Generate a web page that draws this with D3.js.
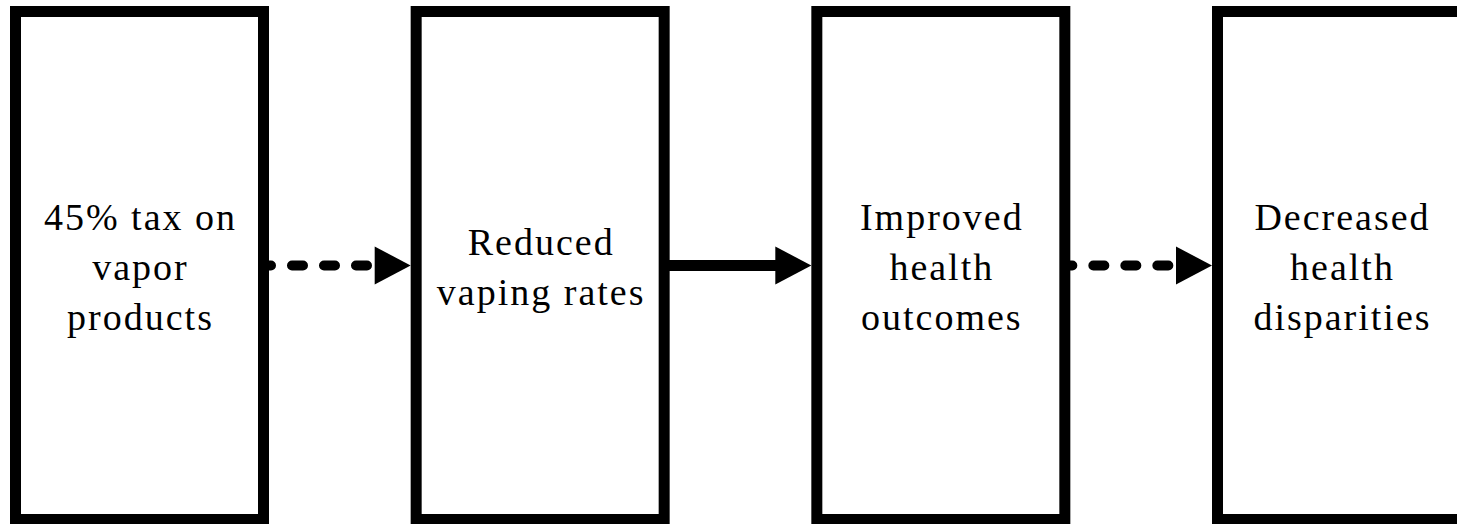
<!DOCTYPE html>
<html>
<head>
<meta charset="utf-8">
<script src="https://cdn.jsdelivr.net/npm/d3@7"></script>
<style>
  html, body { margin: 0; padding: 0; background: #fff; overflow: hidden; }
</style>
</head>
<body>
<div id="plot"></div>
<script>
// chart content
const steps = ["step1", "step2", "step3", "step4"];
const stepLabels = [
  ["45% tax on", "vapor", "products"],
  ["Reduced", "vaping rates"],
  ["Improved", "health", "outcomes"],
  ["Decreased", "health", "disparities"]
];
// link i goes from step i to step i+1
const linkStyles = ["dashed", "solid", "dashed"];

const W = 1457, H = 524;
const boxStroke = 11;

const svg = d3.select("#plot")
  .append("svg")
  .attr("width", W)
  .attr("height", H)
  .style("display", "block");

// box left edge (stroke centre) per step
const x = d3.scaleLinear()
  .domain([0, steps.length - 1])
  .range([15.5, 1217.5]);
const boxW = 248;
const y = d3.scaleLinear().domain([0, 1]).range([11.5, 519.5]);
const midY = y(0.5);

// arrows first, boxes on top hide the line ends
const links = linkStyles.map((s, i) => ({ style: s, from: i, to: i + 1 }));
const headLen = 36, headHalf = 19;

links.forEach(l => {
  const x0 = x(l.from) + boxW + boxStroke / 2 - 5;
  const tip = x(l.to) - boxStroke / 2;
  const headStart = tip - headLen;
  const dashed = l.style === "dashed";
  svg.append("line")
    .attr("x1", x0)
    .attr("y1", midY)
    .attr("x2", dashed ? headStart - 6 : headStart + 2)
    .attr("y2", midY)
    .attr("stroke", "#000")
    .attr("stroke-width", dashed ? 10 : 11)
    .attr("stroke-linecap", dashed ? "round" : "butt")
    .attr("stroke-dasharray", dashed ? "11 21" : null)
    .attr("stroke-dashoffset", dashed ? 4 : null);
  svg.append("path")
    .attr("d", `M${headStart},${midY - headHalf} L${tip},${midY} L${headStart},${midY + headHalf} Z`)
    .attr("fill", "#000");
});

// boxes
svg.selectAll("rect.box")
  .data(steps)
  .join("rect")
  .attr("class", "box")
  .attr("x", (d, i) => x(i))
  .attr("y", y(0))
  .attr("width", boxW)
  .attr("height", y(1) - y(0))
  .attr("fill", "#fff")
  .attr("stroke", "#000")
  .attr("stroke-width", boxStroke);

// labels
const lineH = 50;
steps.forEach((s, i) => {
  const lines = stepLabels[i];
  const t = svg.append("text")
    .attr("text-anchor", "middle")
    .attr("font-family", "'Times New Roman', 'Liberation Serif', Times, serif")
    .attr("font-size", 38)
    .attr("letter-spacing", 2)
    .attr("fill", "#000");
  lines.forEach((ln, k) => {
    t.append("tspan")
      .attr("x", x(i) + boxW / 2 + 1)
      .attr("y", midY + 14 + (k - (lines.length - 1) / 2) * lineH)
      .text(ln);
  });
});
</script>
</body>
</html>
